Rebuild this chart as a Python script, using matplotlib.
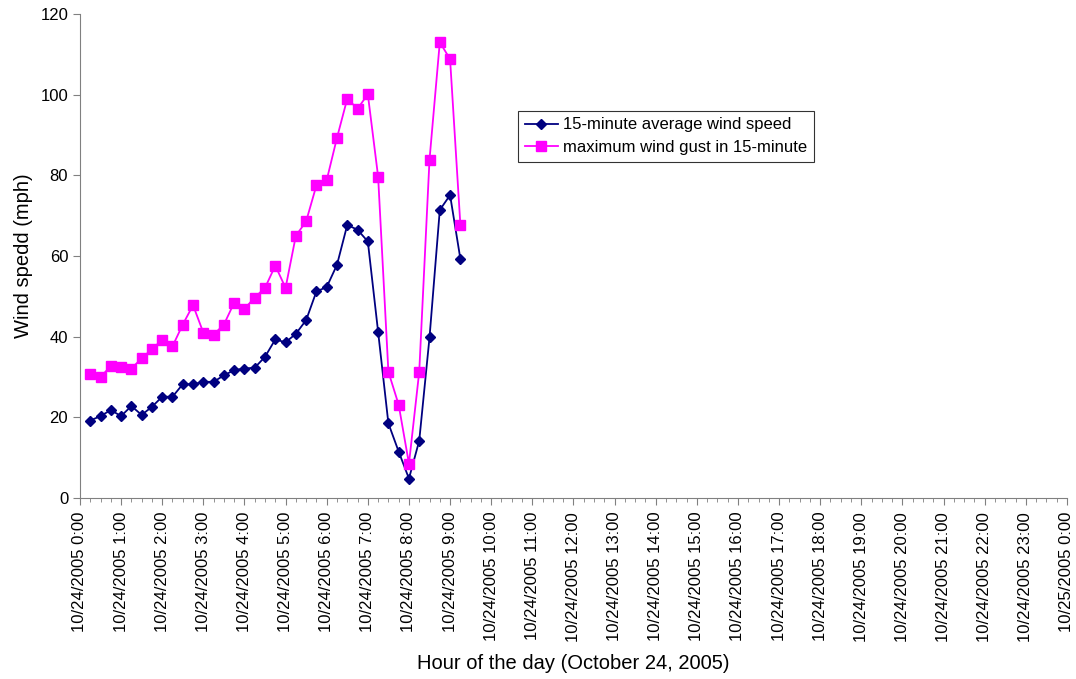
import numpy as np
import matplotlib.pyplot as plt
from matplotlib.ticker import MultipleLocator

plt.rcParams['font.family'] = ['Liberation Sans', 'DejaVu Sans']

# 15-minute readings on 10/24/2005
times = ['0:15', '0:30', '0:45', '1:00', '1:15', '1:30', '1:45', '2:00', '2:15', '2:30',
         '2:45', '3:00', '3:15', '3:30', '3:45', '4:00', '4:15', '4:30', '4:45', '5:00',
         '5:15', '5:30', '5:45', '6:00', '6:15', '6:30', '6:45', '7:00', '7:15', '7:30',
         '7:45', '8:00', '8:15', '8:30', '8:45', '9:00', '9:15']

avg_speed = [19.2, 20.3, 21.8, 20.3, 22.8, 20.6, 22.6, 25.1, 25.1, 28.2,
             28.2, 28.8, 28.8, 30.4, 31.7, 32.1, 32.3, 35.0, 39.3, 38.6,
             40.7, 44.1, 51.2, 52.3, 57.8, 67.7, 66.5, 63.6, 41.2, 18.5,
             11.5, 4.8, 14.2, 39.8, 71.4, 75.1, 59.3]

max_gust = [30.7, 30.0, 32.7, 32.5, 32.1, 34.6, 36.9, 39.2, 37.6, 43.0,
            47.8, 41.0, 40.5, 43.0, 48.4, 46.9, 49.7, 52.1, 57.6, 52.1,
            65.0, 68.6, 77.5, 78.8, 89.3, 99.0, 96.5, 100.1, 79.7, 31.3,
            23.1, 8.5, 31.3, 83.9, 113.0, 108.8, 67.8]

hour_labels = ['10/24/2005 %d:00' % h for h in range(24)] + ['10/25/2005 0:00']

# convert "h:mm" to hours
hours = [int(t.split(':')[0]) + int(t.split(':')[1]) / 60 for t in times]

fig = plt.figure(figsize=(10.76, 6.79), dpi=100)
ax = fig.add_axes([0.0743, 0.2666, 0.9173, 0.7128])

ax.plot(hours, avg_speed, color='#000080', marker='D', markersize=5.5, linewidth=1.3,
        label='15-minute average wind speed')
ax.plot(hours, max_gust, color='#FF00FF', marker='s', markersize=7, linewidth=1.3,
        label='maximum wind gust in 15-minute')

ax.set_xlim(0, 24)
ax.set_ylim(0, 120)
ax.set_xticks(range(25))
ax.set_xticklabels(hour_labels, rotation=90, fontsize=12)
ax.xaxis.set_minor_locator(MultipleLocator(0.25))
ax.set_yticks(range(0, 121, 20))
ax.tick_params(axis='y', labelsize=12, length=5, color='#808080')
ax.tick_params(axis='x', which='major', length=5, color='#808080', pad=5)
ax.tick_params(axis='x', which='minor', length=3, color='#808080')

ax.spines['top'].set_visible(False)
ax.spines['right'].set_visible(False)
ax.spines['left'].set_color('#808080')
ax.spines['bottom'].set_color('#808080')

ax.set_xlabel('Hour of the day (October 24, 2005)', fontsize=14.5, labelpad=9)
ax.set_ylabel('Wind spedd (mph)', fontsize=14.5, labelpad=5)

leg = ax.legend(loc='upper left', bbox_to_anchor=(0.4438, 0.80), borderaxespad=0,
                fontsize=12, frameon=True, fancybox=False, handlelength=2.0,
                handletextpad=0.3, borderpad=0.4, labelspacing=0.45)
leg.get_frame().set_edgecolor('black')
leg.get_frame().set_linewidth(0.8)

fig.savefig('out.png', dpi=100)
